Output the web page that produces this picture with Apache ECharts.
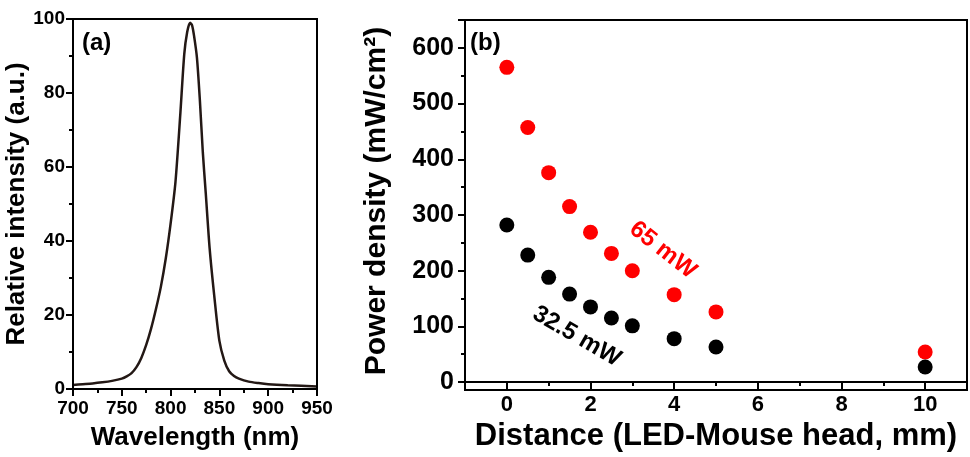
<!DOCTYPE html>
<html>
<head>
<meta charset="utf-8">
<script src="https://cdn.jsdelivr.net/npm/echarts@6/dist/echarts.min.js"></script>
<style>
  html, body { margin: 0; padding: 0; background: #fff; }
  #chart { width: 970px; height: 457px; }
</style>
</head>
<body>
<div id="chart"></div>
<script>
// (a) emission spectrum
var wavelength = [700, 710, 720, 730, 740, 750, 755, 760, 765, 770, 775, 780, 785, 790, 795, 800, 805, 810, 814, 817, 820, 822, 824, 827, 830, 833, 836, 840, 845, 850, 855, 860, 865, 870, 880, 890, 900, 920, 950]
var intensity = [1.1, 1.3, 1.5, 1.8, 2.2, 2.8, 3.4, 4.3, 5.9, 8.4, 11.9, 16.3, 21.6, 27.6, 35.2, 44.7, 56, 74.5, 90.5, 96.5, 99, 98.3, 95.5, 89.5, 78, 64, 53, 38, 24.5, 13, 7.7, 4.8, 3.5, 2.8, 2.0, 1.6, 1.3, 1.0, 0.7]

// (b) power density vs distance
var distance = [0, 0.5, 1, 1.5, 2, 2.5, 3, 4, 5, 10]
var density65 = [565, 457, 376, 315, 269, 231, 200, 157, 126, 54]
var density32 = [282, 228, 188, 158, 135, 115, 101, 78, 63, 27]

var FONT = 'Liberation Sans, Arial, sans-serif'

// plot boxes of the two panels
var gridA = { left: 73, top: 19, width: 244, height: 370 }
var gridB = { left: 465, top: 20, width: 502, height: 370 }

function zip(xs, ys) {
	return xs.map(function (x, i) { return [x, ys[i]] })
}

function axisBase(extra) {
	var base = {
		type: 'value',
		axisLine: { show: true, onZero: false, lineStyle: { color: '#000', width: 2 } },
		axisTick: { show: true, inside: false, length: 7, lineStyle: { color: '#000', width: 2 } },
		minorTick: { show: true, splitNumber: 2, length: 4, lineStyle: { color: '#000', width: 2 } },
		splitLine: { show: false },
		nameLocation: 'middle',
		nameTextStyle: { color: '#000', fontWeight: 'bold', fontFamily: FONT }
	}
	return Object.assign(base, extra)
}

// box round a panel, on its own canvas layer
function frame(g) {
	return {
		type: 'rect', zlevel: 1, z: 100,
		shape: { x: g.left, y: g.top, width: g.width, height: g.height },
		style: { fill: null, stroke: '#000', lineWidth: 2 }
	}
}

var myChart = echarts.init(document.getElementById('chart'))

var option = {
	animation: false,
	grid: [gridA, gridB],
	xAxis: [
		axisBase({
			gridIndex: 0, min: 700, max: 950, interval: 50,
			axisLabel: { color: '#000', fontWeight: 'bold', fontSize: 19, margin: 10, fontFamily: FONT },
			name: 'Wavelength (nm)', nameGap: 36
		}),
		axisBase({
			gridIndex: 1, min: -1, max: 11, splitNumber: 6,
			axisLabel: { color: '#000', fontWeight: 'bold', fontSize: 22, margin: 12, fontFamily: FONT, showMinLabel: false, showMaxLabel: false },
			name: 'Distance (LED-Mouse head, mm)', nameGap: 35
		})
	],
	yAxis: [
		axisBase({
			gridIndex: 0, min: 0, max: 100, interval: 20,
			axisLabel: { color: '#000', fontWeight: 'bold', fontSize: 19, margin: 8, fontFamily: FONT },
			name: 'Relative intensity (a.u.)', nameGap: 37
		}),
		axisBase({
			gridIndex: 1, min: 0, max: 650, interval: 100,
			axisLabel: { color: '#000', fontWeight: 'bold', fontSize: 25, margin: 11, fontFamily: FONT, showMaxLabel: false },
			name: 'Power density (mW/cm²)', nameGap: 73
		})
	],
	graphic: {
		elements: [
			frame(gridA),
			frame(gridB),
			{ type: 'text', left: 82, top: 31, style: { text: '(a)', fontSize: 24, fontWeight: 'bold', fontFamily: FONT, fill: '#000' } },
			{ type: 'text', left: 470, top: 31, style: { text: '(b)', fontSize: 24, fontWeight: 'bold', fontFamily: FONT, fill: '#000' } }
		]
	},
	series: [
		{
			type: 'line',
			xAxisIndex: 0, yAxisIndex: 0,
			smooth: 0.25,
			showSymbol: false,
			lineStyle: { color: '#231815', width: 2.5 },
			data: zip(wavelength, intensity)
		},
		{
			type: 'scatter',
			xAxisIndex: 1, yAxisIndex: 1,
			symbolSize: 15,
			itemStyle: { color: '#ff0000', opacity: 1 },
			data: zip(distance, density65)
		},
		{
			type: 'scatter',
			xAxisIndex: 1, yAxisIndex: 1,
			symbolSize: 15,
			itemStyle: { color: '#000000', opacity: 1 },
			data: zip(distance, density32)
		},
		// rotated curve labels
		{
			type: 'scatter',
			xAxisIndex: 1, yAxisIndex: 1,
			symbolSize: 0.1,
			itemStyle: { color: '#ff0000', opacity: 1 },
			label: {
				show: true, position: 'inside', rotate: -38,
				formatter: '65 mW', color: '#ff0000', fontSize: 24, fontWeight: 'bold', fontFamily: FONT,
				textBorderWidth: 0, opacity: 1
			},
			data: [[3.73, 237]]
		},
		{
			type: 'scatter',
			xAxisIndex: 1, yAxisIndex: 1,
			symbolSize: 0.1,
			itemStyle: { color: '#000000', opacity: 1 },
			label: {
				show: true, position: 'inside', rotate: -30,
				formatter: '32.5 mW', color: '#000000', fontSize: 24, fontWeight: 'bold', fontFamily: FONT,
				textBorderWidth: 0, opacity: 1
			},
			data: [[1.67, 82]]
		}
	]
}

option.xAxis[0].nameTextStyle.fontSize = 26
option.xAxis[1].nameTextStyle.fontSize = 31
option.yAxis[0].nameTextStyle.fontSize = 26
option.yAxis[1].nameTextStyle.fontSize = 30

myChart.setOption(option)
</script>
</body>
</html>
